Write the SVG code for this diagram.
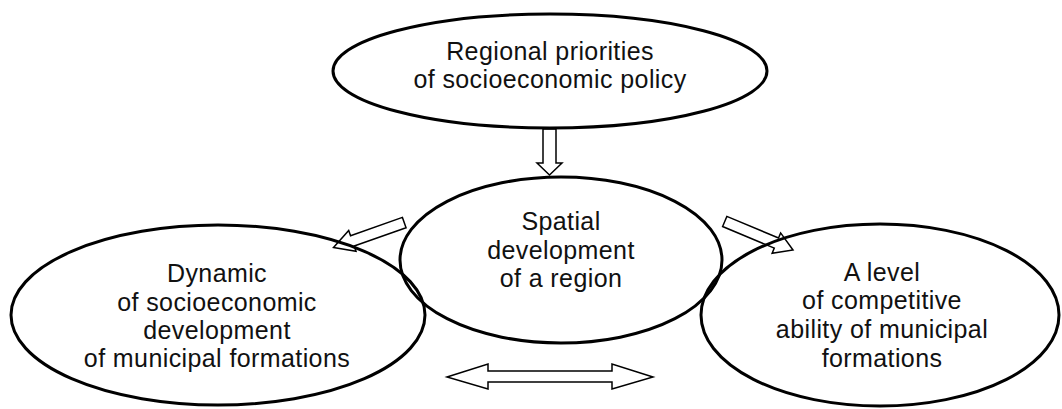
<svg xmlns="http://www.w3.org/2000/svg" width="1062" height="409" viewBox="0 0 1062 409">
<style>
.node ellipse{fill:none;stroke:#000;stroke-width:3}
text{font-family:"Liberation Sans",Arial,sans-serif;font-size:25px;letter-spacing:0.4px;fill:#111;text-anchor:middle}
.arr{fill:none;stroke:#000;stroke-width:1.5;stroke-linejoin:miter}
</style>
<rect width="1062" height="409" fill="#fff"/>
<g id="node-regional-priorities" class="node">
<ellipse cx="550" cy="71" rx="217" ry="57"/>
<text x="550" y="60">Regional priorities</text>
<text x="550" y="88">of socioeconomic policy</text>
</g>
<g id="node-dynamic" class="node">
<ellipse cx="218" cy="315" rx="207" ry="90"/>
<text x="217" y="282">Dynamic</text>
<text x="217" y="311">of socioeconomic</text>
<text x="217" y="339">development</text>
<text x="217" y="367">of municipal formations</text>
</g>
<g id="node-competitive" class="node">
<ellipse cx="880" cy="315" rx="179" ry="91"/>
<text x="882" y="281">A level</text>
<text x="882" y="309">of competitive</text>
<text x="882" y="338">ability of municipal</text>
<text x="882" y="367">formations</text>
</g>
<g id="node-spatial" class="node">
<ellipse cx="561" cy="260" rx="161" ry="83"/>
<text x="561" y="230">Spatial</text>
<text x="561" y="259">development</text>
<text x="561" y="287">of a region</text>
</g>
<g id="connectors">
<polygon class="arr" points="543,129 556,129 556,163 562,163 549.5,175 537,163 543,163"/>
<polygon class="arr" transform="translate(333.5,247.5) rotate(160.6)" points="0,0 -20,-11 -20,-5.5 -75,-5.5 -75,5.5 -20,5.5 -20,11"/>
<polygon class="arr" transform="translate(793,250) rotate(22.7)" points="0,0 -18,-11 -18,-5.5 -74,-5.5 -74,5.5 -18,5.5 -18,11"/>
<polygon class="arr" points="447,377 488,364 488,371 612,371 612,364 653,377 612,389 612,382 488,382 488,389"/>
</g>
</svg>
